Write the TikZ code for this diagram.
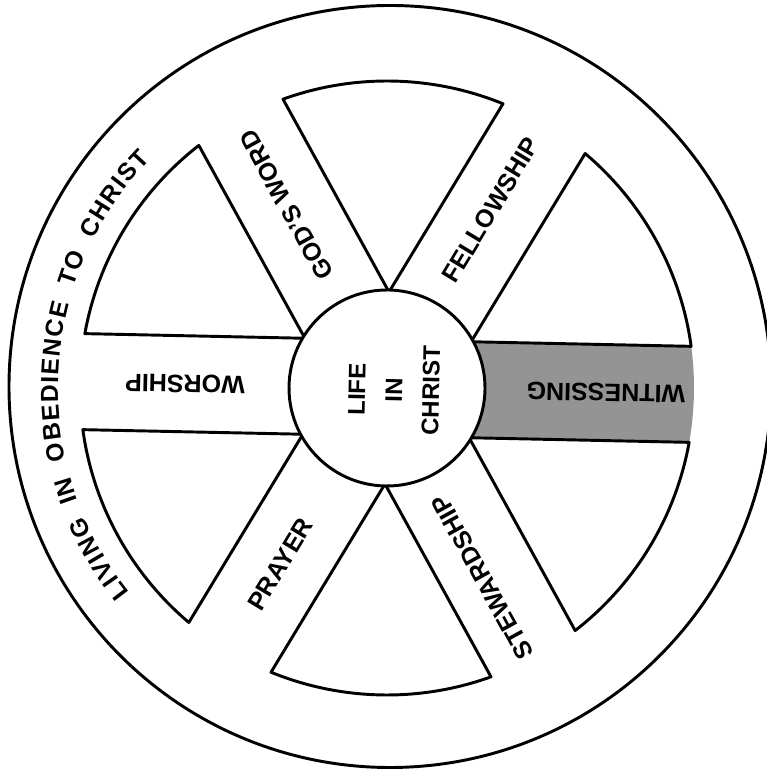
\documentclass[tikz,border=0pt]{standalone}
\usepackage{fontspec}
\setmainfont{Liberation Sans}
\usetikzlibrary{decorations.text}
\newcommand\rimfont{\fontsize{18.5}{20}\selectfont\bfseries}
\tikzset{
  wheelline/.style={line width=2.2pt, line join=round},
  spokelabel/.style={font=\fontsize{18.8}{22}\selectfont\bfseries, inner sep=0pt},
  hublabel/.style={font=\fontsize{18}{27.75}\selectfont\bfseries, align=center, inner sep=0pt},
}
\begin{document}
\begin{tikzpicture}[x=0.75pt, y=0.75pt]
\useasboundingbox (0,0) rectangle (767,775);
\clip (0,0) rectangle (767,775);
\fill[white] (0,0) rectangle (767,775);
% outer circle of the wheel
\draw[wheelline] (390,388.5) circle[radius=381];
\begin{scope}[shift={(387,387)}, rotate=-1.2]
  % shaded spoke
  \begin{scope}
    \clip (0,0) circle[radius=307];
    \fill[black!42] (0,-48) rectangle (330,48);
  \end{scope}
  % the six open sectors between spokes
  \foreach \a [evaluate=\a as \s using \a-21, evaluate=\a as \e using \a+21] in {30,90,150,210,270,330} {
    \draw[wheelline] (\a:96) -- (\s:307) arc[start angle=\s, end angle=\e, radius=307] -- cycle;
  }
  % hub
  \draw[wheelline, fill=white] (0,0) circle[radius=98];
  % spoke labels
  \node[spokelabel, rotate=118.8] (godsword) at (120:209) {GOD'S WORD};
  \node[spokelabel, rotate=58.8] (fellowship) at (61:206) {FELLOWSHIP};
  \node[spokelabel, rotate=178.8] (worship) at (180:202) {WORSHIP};
  \node[spokelabel, rotate=178.8] (witnessing) at (0:219) {WITNESSING};
  \node[spokelabel, rotate=58.8] (prayer) at (240:206) {PRAYER};
  \node[spokelabel, rotate=118.8] (stewardship) at (298:212) {STEWARDSHIP};
\end{scope}
\node[hublabel, rotate=88.8] (life) at (394,385) {LIFE\\IN\\CHRIST};
% rim text
\begin{scope}[shift={(387,387)}]
  \path[decorate, decoration={text along path,
      text={|\rimfont|LIVING {\kern4pt}IN {\kern4pt}OBEDIENCE {\kern4pt}TO {\kern4pt}CHRIST},
      text align={fit to path}}]
    (218.5:329) arc[start angle=218.5, end angle=136, radius=329];
\end{scope}
\end{tikzpicture}
\end{document}
